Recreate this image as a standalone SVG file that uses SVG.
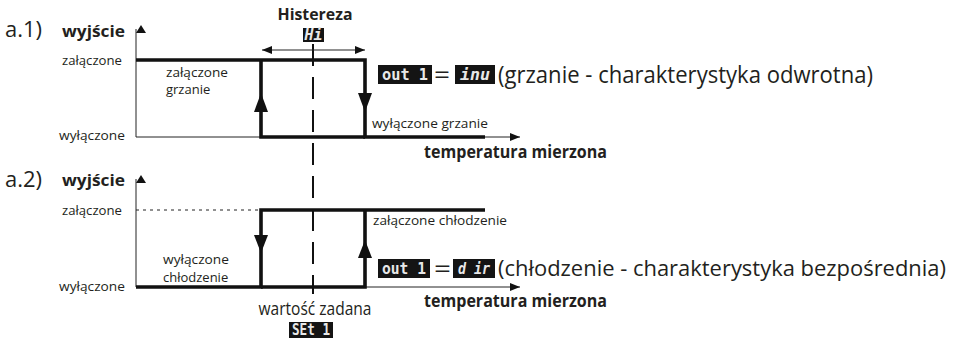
<svg xmlns="http://www.w3.org/2000/svg" width="954" height="342" viewBox="0 0 954 342">
<style>
  .lbl { font-family: "Open Sans", "Noto Sans", sans-serif; fill: #231f20; }
  .sm { font-size: 13px; }
  .bold { font-weight: bold; }
  .thick { stroke: #111; stroke-width: 3.6; fill: none; }
  .thin { stroke: #222; stroke-width: 1; fill: none; }
  .ah { fill: #111; stroke: none; }
  .box { fill: #141414; }
  .seg { font-family: "DejaVu Sans Mono", monospace; font-weight: bold; fill: #e8e8e8; font-size: 15px; }
</style>
<defs>
  <marker id="axY" viewBox="0 0 8 10" refX="4" refY="0" markerWidth="8" markerHeight="10" markerUnits="userSpaceOnUse" orient="auto-start-reverse">
    <path d="M0,0 L8,5 L0,10 z" fill="#111"/>
  </marker>
  <marker id="tip" viewBox="0 0 10 8" refX="10" refY="4" markerWidth="10" markerHeight="8" markerUnits="userSpaceOnUse" orient="auto-start-reverse">
    <path d="M0,0 L10,4 L0,8 z" fill="#111"/>
  </marker>
</defs>
<rect width="954" height="342" fill="#fff"/>

<!-- Panel a.1 -->
<g id="panel-a1">
  <text class="lbl" x="5" y="37" font-size="21" textLength="37" lengthAdjust="spacingAndGlyphs">a.1)</text>
  <text class="lbl bold" x="62" y="37" font-size="16.5" textLength="63" lengthAdjust="spacingAndGlyphs">wyjście</text>
  <text class="lbl sm" x="122" y="65" text-anchor="end" textLength="60" lengthAdjust="spacingAndGlyphs">załączone</text>
  <text class="lbl sm" x="125" y="140" text-anchor="end" textLength="66" lengthAdjust="spacingAndGlyphs">wyłączone</text>
  <text class="lbl sm" x="166" y="77" textLength="62" lengthAdjust="spacingAndGlyphs">załączone</text>
  <text class="lbl sm" x="166" y="94">grzanie</text>
  <text class="lbl bold" x="315" y="20" font-size="16.5" text-anchor="middle" textLength="75" lengthAdjust="spacingAndGlyphs">Histereza</text>
  <rect class="box" x="303" y="28" width="21" height="14"/>
  <text class="seg" x="313.5" y="40" font-size="12" text-anchor="middle" font-style="italic">Hi</text>
  <text class="lbl sm" x="372" y="128" textLength="116" lengthAdjust="spacingAndGlyphs">wyłączone grzanie</text>
  <text class="lbl bold" x="424" y="158" font-size="17.5" textLength="183" lengthAdjust="spacingAndGlyphs">temperatura mierzona</text>
  <rect class="box" x="378" y="65" width="54" height="19"/>
  <text class="seg" x="405" y="80" text-anchor="middle" textLength="46" lengthAdjust="spacingAndGlyphs">out 1</text>
  <text class="lbl" x="434" y="83" font-size="24" textLength="16" lengthAdjust="spacingAndGlyphs">=</text>
  <rect class="box" x="455" y="65" width="40" height="19"/>
  <text class="seg" x="475" y="80" text-anchor="middle" font-style="italic" textLength="30" lengthAdjust="spacingAndGlyphs">inu</text>
  <text class="lbl" x="498" y="83" font-size="23.5" textLength="375" lengthAdjust="spacingAndGlyphs">(grzanie - charakterystyka odwrotna)</text>
</g>

<!-- Panel a.2 -->
<g id="panel-a2">
  <text class="lbl" x="5" y="187" font-size="21" textLength="37" lengthAdjust="spacingAndGlyphs">a.2)</text>
  <text class="lbl bold" x="62" y="186" font-size="16.5" textLength="63" lengthAdjust="spacingAndGlyphs">wyjście</text>
  <text class="lbl sm" x="122" y="215" text-anchor="end" textLength="60" lengthAdjust="spacingAndGlyphs">załączone</text>
  <text class="lbl sm" x="125" y="291" text-anchor="end" textLength="66" lengthAdjust="spacingAndGlyphs">wyłączone</text>
  <text class="lbl sm" x="163" y="264" textLength="66" lengthAdjust="spacingAndGlyphs">wyłączone</text>
  <text class="lbl sm" x="163" y="282">chłodzenie</text>
  <text class="lbl sm" x="373" y="225" textLength="134" lengthAdjust="spacingAndGlyphs">załączone chłodzenie</text>
  <text class="lbl bold" x="424" y="307" font-size="17.5" textLength="183" lengthAdjust="spacingAndGlyphs">temperatura mierzona</text>
  <rect class="box" x="378" y="259" width="52" height="19"/>
  <text class="seg" x="404" y="274" text-anchor="middle" textLength="44" lengthAdjust="spacingAndGlyphs">out 1</text>
  <text class="lbl" x="434" y="277" font-size="24" textLength="17" lengthAdjust="spacingAndGlyphs">=</text>
  <rect class="box" x="453" y="259" width="42" height="19"/>
  <text class="seg" x="474" y="274" text-anchor="middle" font-style="italic" textLength="32" lengthAdjust="spacingAndGlyphs">d ir</text>
  <text class="lbl" x="498" y="276" font-size="21.8" textLength="448" lengthAdjust="spacingAndGlyphs">(chłodzenie - charakterystyka bezpośrednia)</text>
  <text class="lbl" x="315" y="315" font-size="17.5" text-anchor="middle" textLength="113" lengthAdjust="spacingAndGlyphs">wartość zadana</text>
  <rect class="box" x="289" y="322" width="44" height="16"/>
  <text class="seg" x="311" y="335" text-anchor="middle" font-size="13" textLength="38" lengthAdjust="spacingAndGlyphs">SEt 1</text>
</g>

<g id="connectors">
  <line x1="313" y1="44" x2="313" y2="294" stroke="#111" stroke-width="2" stroke-dasharray="22 11"/>
  <line class="thin" x1="136" y1="137" x2="136" y2="29" marker-end="url(#axY)"/>
  <line class="thin" x1="136" y1="137" x2="520" y2="137" marker-end="url(#tip)"/>
  <line class="thin" x1="262" y1="50" x2="365" y2="50" marker-start="url(#tip)" marker-end="url(#tip)"/>
  <polyline class="thick" points="136,60 365,60 365,137 485,137"/>
  <polyline class="thick" points="261,60 261,137 365,137"/>
  <polygon class="ah" points="261,93 254,112 268,112"/>
  <polygon class="ah" points="365,112 358,93 372,93"/>

  <line class="thin" x1="136" y1="287" x2="136" y2="179" marker-end="url(#axY)"/>
  <line class="thin" x1="136" y1="287" x2="520" y2="287" marker-end="url(#tip)"/>
  <line x1="136" y1="210" x2="260" y2="210" stroke="#222" stroke-width="1" stroke-dasharray="3 4"/>
  <polyline class="thick" points="485,210 261,210 261,287 136,287"/>
  <polyline class="thick" points="261,287 365,287 365,210"/>
  <polygon class="ah" points="261,253 254,235 268,235"/>
  <polygon class="ah" points="365,240 358,258 372,258"/>
</g>
</svg>
